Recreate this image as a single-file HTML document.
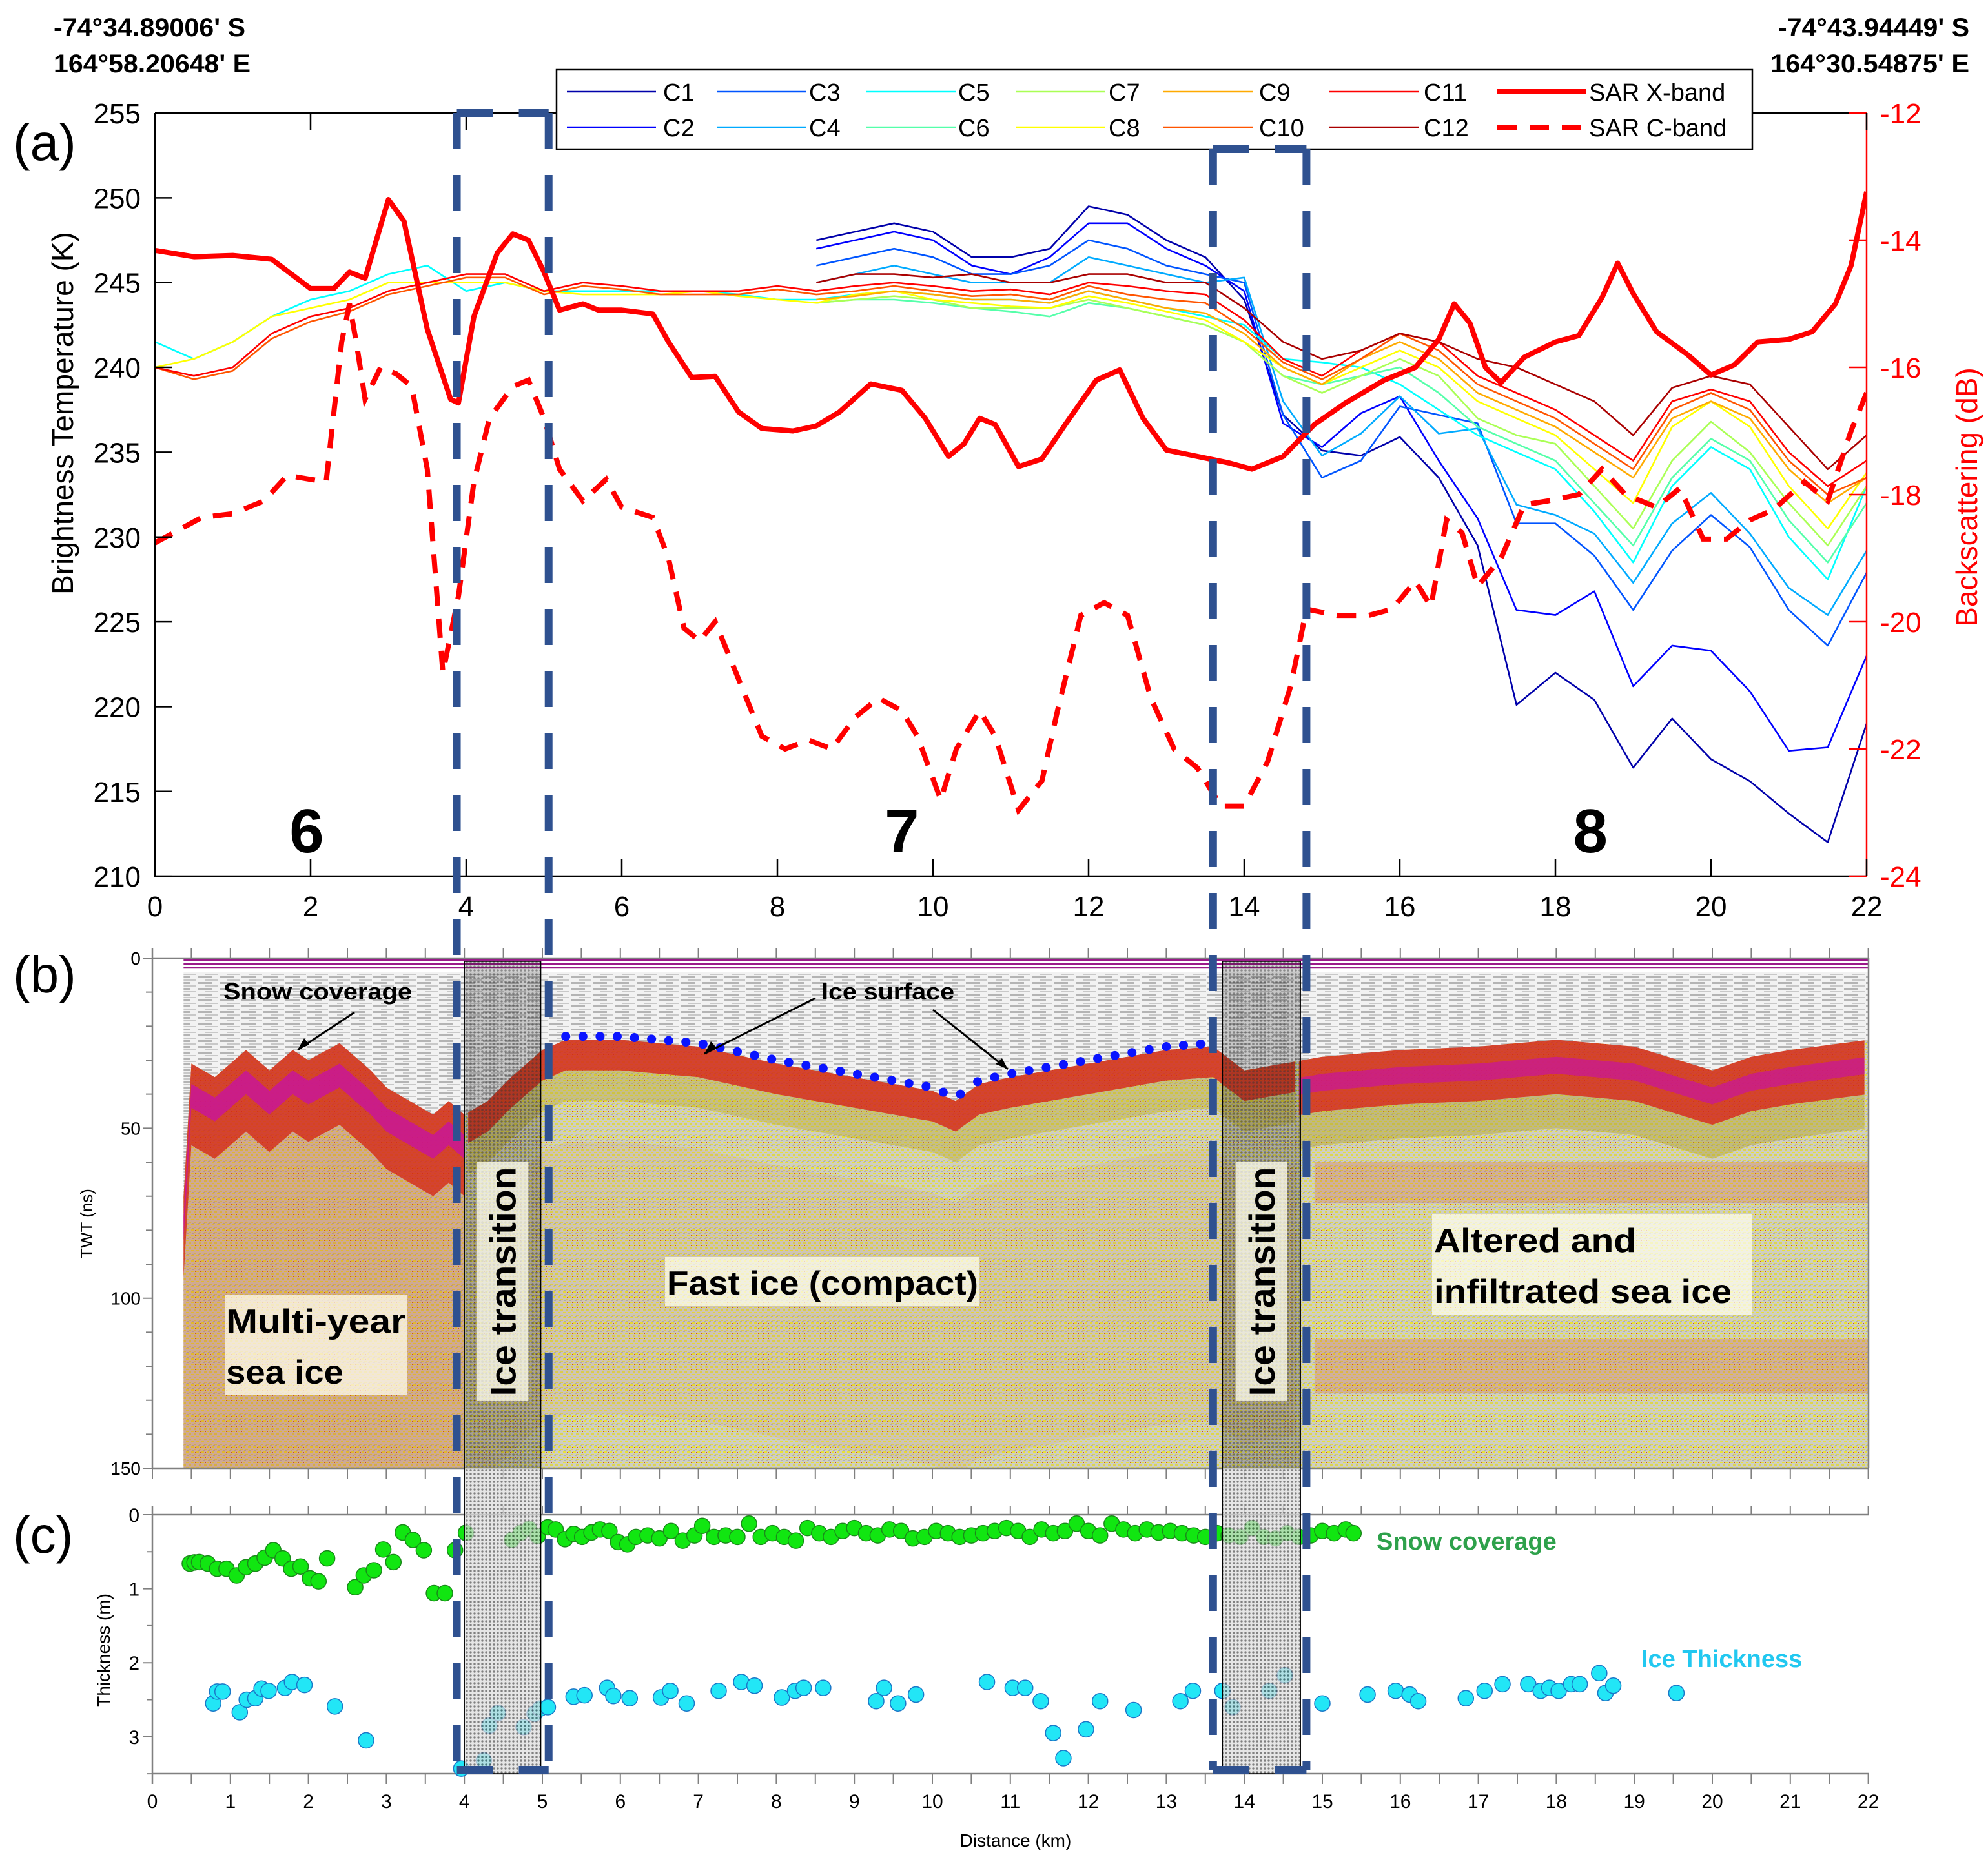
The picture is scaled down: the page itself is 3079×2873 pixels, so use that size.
<!DOCTYPE html>
<html><head><meta charset="utf-8"><style>
html,body{margin:0;padding:0;background:#fff}
svg{display:block}
text{font-family:"Liberation Sans",sans-serif}
</style></head><body>
<svg id="fig" xmlns="http://www.w3.org/2000/svg" width="3079" height="2873" viewBox="0 0 3079 2873">
<defs>
<pattern id="snowPat" width="34" height="9" patternUnits="userSpaceOnUse"><rect width="34" height="9" fill="#f2f2f2"/><rect x="0" y="0" width="22" height="3" fill="#b4b4b4"/><rect x="12" y="5" width="20" height="2" fill="#c8c8c8"/></pattern>
<pattern id="icePat" width="8" height="8" patternUnits="userSpaceOnUse"><rect width="8" height="8" fill="#cfcec2"/><rect x="0" y="0" width="4" height="2" fill="#e8e238"/><rect x="4" y="4" width="4" height="2" fill="#dcd650"/><rect x="2" y="6" width="3" height="1" fill="#b0b0b0"/><rect x="6" y="1" width="1" height="1" fill="#c85a20"/></pattern>
<pattern id="dotPat" width="6" height="6" patternUnits="userSpaceOnUse"><rect width="6" height="6" fill="#dcdcdc"/><circle cx="3" cy="3" r="1.7" fill="#555"/></pattern>
<pattern id="dotPatDark" width="6" height="6" patternUnits="userSpaceOnUse"><circle cx="3" cy="3" r="1.8" fill="#333"/></pattern>
<clipPath id="clipA"><rect x="240" y="175" width="2651" height="1182"/></clipPath>
<clipPath id="clipB"><rect x="284" y="1484" width="2610" height="790"/></clipPath>
</defs>
<rect width="3079" height="2873" fill="#fff"/>
<g font-weight="bold" font-size="40">
<text x="83" y="56" textLength="297" lengthAdjust="spacingAndGlyphs">-74°34.89006' S</text>
<text x="83" y="112" textLength="305" lengthAdjust="spacingAndGlyphs">164°58.20648' E</text>
</g>
<g font-weight="bold" font-size="40">
<text x="2754" y="56" textLength="296" lengthAdjust="spacingAndGlyphs">-74°43.94449' S</text>
<text x="2742" y="112" textLength="308" lengthAdjust="spacingAndGlyphs">164°30.54875' E</text>
</g>
<text x="20" y="248" font-size="80">(a)</text>
<text x="20" y="1537" font-size="80">(b)</text>
<text x="20" y="2405" font-size="80">(c)</text>
<g id="panelA"></g>
<g id="panelB"></g>
<g id="panelC"></g>
<g id="overlay"></g>
</svg>
<script>
const NS="http://www.w3.org/2000/svg";
// ---------- Panel (a) data ----------
const dist=[0,0.5,1,1.5,2,2.5,3,3.5,4,4.5,5,5.5,6,6.5,7,7.5,8,8.5,9,9.5,10,10.5,11,11.5,12,12.5,13,13.5,14,14.5,15,15.5,16,16.5,17,17.5,18,18.5,19,19.5,20,20.5,21,21.5,22];
const N17=[null,null,null,null,null,null,null,null,null,null,null,null,null,null,null,null,null];
const c1=N17.concat([247.5,248,248.5,248,246.5,246.5,247,249.5,249,247.5,246.5, 244,237.2,235.1,234.8,235.9,233.5,229.5,220.1,222,220.4,216.4,219.3,216.9,215.6,213.7,212,219]);
const c2=N17.concat([247,247.5,248,247.5,246,245.5,246.5,248.5,248.5,247,246, 244.5,236.7,235.3,237.3,238.3,234.5,231.1,225.7,225.4,226.8,221.2,223.6,223.3,220.9,217.4,217.6,223]);
const c3=N17.concat([246,246.5,247,246.5,245.5,245.5,246,247.5,247,246,245.5, 245,237.2,233.5,234.5,237.7,237.2,236.7,230.8,230.8,228.9,225.7,229.2,231.3,229.4,225.7,223.6,227.9]);
const c4=N17.concat([245,245.5,246,245.5,245,245,245,246.5,246,245.5,245, 245.3,238,234.8,236.1,238.3,236.1,236.4,231.9,231.3,230.2,227.3,230.8,232.6,230.2,227,225.4,229.2]);
const c5=[241.5,240.5,241.5,243,244,244.5,245.5,246,244.5,245,244.5,244.5,244.5,244.5,244.5,244.3,244, 244,244.3,244.5,244.3,244,244,243.8,244.5,244,243.5,243, 242.5,240.5,240.3,240,239,237.5,236,235,234,231.5,228.5,233,235.3,234,230,227.5,233];
const c6=N17.concat([243.8,244,244,243.8,243.5,243.3,243,243.8,243.5,243,242.5, 241.5,239.5,239,239.5,240,238.5,236.5,235.5,234.5,232,229.5,233.5,235.8,234.5,231,228.5,232]);
const c7=N17.concat([243.8,244,244.2,244,243.5,243.5,243.5,244,243.5,243,242.5, 241.5,239.5,238.5,239.5,240.5,239.5,237,236,235.5,233,230.5,234.5,236.8,235,232,229.5,233]);
const c8=[240,240.5,241.5,243,243.5,244,245,245,245,245,244.5,244.3,244.3,244.3,244.5,244.2,244, 243.8,244.3,244.5,244,243.8,243.6,243.5,244.2,243.8,243.3,242.8, 241.5,240,239,240,241,240,238,237,236,234,232,236.5,238,236.5,233,230.5,233.8];
const c9=N17.concat([244,244.2,244.5,244.3,244,244,243.8,244.5,244,243.5,243.2, 242,240,239,240.5,241.5,240.5,238.5,237.5,236.5,235,233.5,237,238,237,234,232,233.5]);
const c10=[240,239.3,239.8,241.7,242.7,243.3,244.3,244.8,245.3,245.3,244.3,244.8,244.6,244.3,244.3,244.3,244.6, 244.3,244.5,244.8,244.5,244.2,244.3,244,244.8,244.3,244,243.8, 242.3,240.3,239.3,240.5,242,241,239,238,237,235.5,234,237.5,238.5,237.5,234.5,232.5,233.5];
const c11=[240,239.5,240,242,243,243.5,244.5,245,245.5,245.5,244.5,245,244.8,244.5,244.5,244.5,244.8, 244.5,244.8,245,244.8,244.5,244.6,244.3,245,244.8,244.5,244.3, 242.8,240.5,239.5,241,242,241.5,239.5,238.5,237.5,236,234.5,238,238.7,238,235,233,234.5];
const c12=N17.concat([245,245.5,245.5,245.3,245.5,245,245,245.5,245.5,245,245, 243.5,241.5,240.5,241,242,241.5,240.5,240,239,238,236,238.8,239.5,239,236.5,234,236]);
const xbandKm=[0,0.5,1,1.5,2,2.3,2.5,2.7,3.0,3.2,3.5,3.8,3.9,4.1,4.4,4.6,4.8,5.0,5.2,5.5,5.7,6.0,6.4,6.6,6.9,7.2,7.5,7.8,8.2,8.5,8.8,9.2,9.6,9.9,10.2,10.4,10.6,10.8,11.1,11.4,11.7,12.1,12.4,12.7,13.0,13.4,13.8,14.1,14.5,14.9,15.3,15.8,16.2,16.5,16.7,16.9,17.1,17.3,17.6,18.0,18.3,18.6,18.8,19.0,19.3,19.7,20.0,20.3,20.6,21.0,21.3,21.6,21.8,22.0];
const xbandDb=[-14.16,-14.26,-14.24,-14.3,-14.76,-14.76,-14.5,-14.6,-13.36,-13.7,-15.4,-16.5,-16.56,-15.2,-14.2,-13.9,-14.0,-14.5,-15.1,-15.0,-15.1,-15.1,-15.16,-15.6,-16.16,-16.14,-16.7,-16.96,-17.0,-16.92,-16.7,-16.26,-16.36,-16.8,-17.4,-17.2,-16.8,-16.9,-17.56,-17.44,-16.9,-16.2,-16.04,-16.8,-17.3,-17.4,-17.5,-17.6,-17.4,-16.9,-16.56,-16.2,-16.0,-15.56,-15.0,-15.3,-16.0,-16.24,-15.84,-15.6,-15.5,-14.9,-14.36,-14.84,-15.44,-15.8,-16.12,-15.96,-15.6,-15.56,-15.44,-15.0,-14.4,-13.24];
const cbandKm=[0,0.3,0.6,1.0,1.4,1.7,2.0,2.2,2.4,2.5,2.6,2.7,2.9,3.1,3.3,3.5,3.7,3.9,4.1,4.3,4.6,4.8,5.0,5.2,5.5,5.8,6.0,6.4,6.6,6.8,7.0,7.2,7.5,7.8,8.1,8.4,8.7,9.0,9.3,9.6,9.8,10.1,10.3,10.6,10.8,11.1,11.4,11.6,11.9,12.2,12.5,12.8,13.1,13.4,13.7,14.0,14.3,14.6,14.8,15.2,15.6,15.9,16.2,16.4,16.6,16.8,17.0,17.3,17.6,17.9,18.3,18.6,18.9,19.3,19.6,19.9,20.2,20.5,20.8,21.2,21.5,21.8,22.0];
const cbandDb=[-18.76,-18.56,-18.36,-18.3,-18.1,-17.7,-17.76,-17.8,-15.6,-15.0,-15.7,-16.5,-16.0,-16.1,-16.3,-17.6,-20.8,-19.6,-17.8,-16.8,-16.3,-16.2,-16.8,-17.6,-18.1,-17.76,-18.2,-18.36,-19.0,-20.1,-20.3,-20.0,-20.9,-21.8,-22.0,-21.86,-22.0,-21.5,-21.2,-21.4,-21.8,-22.8,-22.0,-21.4,-21.8,-22.96,-22.5,-21.4,-19.9,-19.7,-19.9,-21.2,-22.0,-22.3,-22.9,-22.9,-22.2,-21.0,-19.8,-19.9,-19.9,-19.8,-19.36,-19.76,-18.4,-18.6,-19.44,-19.0,-18.16,-18.1,-18.0,-17.6,-18.0,-18.2,-17.9,-18.7,-18.7,-18.4,-18.24,-17.8,-18.1,-17.0,-16.4];
const tbTicks=[210,215,220,225,230,235,240,245,250,255];
const dbTicks=[-12,-14,-16,-18,-20,-22,-24];
const kmTicksA=[0,2,4,6,8,10,12,14,16,18,20,22];
const chanNames=["C1","C2","C3","C4","C5","C6","C7","C8","C9","C10","C11","C12"];
const chanData=[c1,c2,c3,c4,c5,c6,c7,c8,c9,c10,c11,c12];
const chanColors=["#0000aa","#0000ff","#0055ff","#00aaff","#00ffff","#55ffaa","#aaff55","#ffff00","#ffaa00","#ff5500","#ff0000","#aa0000"];
// ---------- Panel (b) data ----------
const surfKm=[0.4,0.5,0.8,1.2,1.5,1.8,2.0,2.4,2.8,3.0,3.3,3.6,3.8,4.0,4.3,4.6,5.0,5.3,6,7,8,9,10,10.3,10.6,11,12,13,13.6,14,14.5,15,16,17,18,19,20,20.5,21,22];
const surfNs=[70,31,35,27,33,27,30,25,33,38,42,46,42,46,42,35,27,24,24,26,31,35,39,42,37,35,31,27,26,33,31,29,27,26,24,26,33,29,27,24];
const twtTicks=[0,50,100,150];
// ---------- Panel (c) data ----------
const snowKm=[0.48,0.54,0.60,0.71,0.83,0.95,1.08,1.2,1.32,1.44,1.55,1.67,1.78,1.9,2.02,2.13,2.24,2.6,2.71,2.84,2.96,3.09,3.21,3.34,3.48,3.61,3.75,3.88,4.02,4.61,4.72,4.83,4.94,5.07,5.17,5.29,5.40,5.51,5.63,5.74,5.86,5.97,6.09,6.2,6.35,6.5,6.65,6.8,6.95,7.05,7.2,7.35,7.5,7.65,7.8,7.95,8.1,8.25,8.4,8.55,8.7,8.85,9.0,9.15,9.3,9.45,9.6,9.75,9.9,10.05,10.2,10.35,10.5,10.65,10.8,10.95,11.1,11.25,11.4,11.55,11.7,11.85,12.0,12.15,12.3,12.45,12.6,12.75,12.9,13.05,13.2,13.35,13.5,13.65,13.8,13.95,14.1,14.25,14.4,14.55,14.7,14.85,15.0,15.15,15.3,15.4];
const snowM=[0.66,0.645,0.64,0.66,0.73,0.73,0.82,0.71,0.66,0.58,0.48,0.59,0.73,0.70,0.86,0.90,0.59,0.98,0.82,0.75,0.47,0.64,0.24,0.34,0.48,1.06,1.06,0.48,0.245,0.34,0.245,0.19,0.29,0.17,0.2,0.33,0.26,0.3,0.24,0.2,0.22,0.37,0.40,0.3,0.28,0.32,0.22,0.35,0.28,0.15,0.3,0.28,0.3,0.12,0.3,0.25,0.3,0.35,0.18,0.25,0.3,0.22,0.18,0.25,0.28,0.2,0.22,0.32,0.3,0.22,0.25,0.3,0.28,0.25,0.22,0.18,0.22,0.3,0.2,0.25,0.22,0.12,0.22,0.28,0.12,0.2,0.25,0.2,0.24,0.22,0.25,0.28,0.3,0.25,0.28,0.3,0.18,0.3,0.32,0.25,0.3,0.28,0.22,0.25,0.2,0.25];
const iceKm=[0.78,0.83,0.9,1.12,1.21,1.32,1.4,1.49,1.7,1.79,1.95,2.34,2.74,3.96,4.25,4.32,4.43,4.76,4.9,4.97,5.07,5.4,5.54,5.83,5.91,6.12,6.52,6.64,6.85,7.26,7.55,7.72,8.07,8.24,8.35,8.6,9.28,9.38,9.56,9.79,10.7,11.03,11.19,11.39,11.55,11.68,11.97,12.15,12.58,13.18,13.34,13.72,13.85,14.32,14.52,15.0,15.58,15.94,16.12,16.23,16.84,17.08,17.31,17.64,17.8,17.91,18.03,18.19,18.3,18.55,18.63,18.73,19.54];
const iceM=[2.55,2.39,2.39,2.67,2.5,2.48,2.35,2.38,2.34,2.26,2.3,2.59,3.05,3.43,3.32,2.85,2.68,2.87,2.69,2.62,2.6,2.46,2.44,2.34,2.45,2.48,2.47,2.38,2.55,2.38,2.26,2.31,2.47,2.38,2.34,2.34,2.52,2.34,2.55,2.43,2.26,2.34,2.34,2.52,2.95,3.29,2.9,2.52,2.64,2.52,2.38,2.38,2.6,2.38,2.17,2.55,2.43,2.38,2.43,2.52,2.48,2.38,2.29,2.29,2.38,2.34,2.38,2.29,2.29,2.14,2.41,2.31,2.41];
const thickTicks=[0,1,2,3];
const transitions=[[3.88,5.06,175],[13.6,14.8,231]];

// ---------- scales ----------
const xa=k=>240+k*120.5;
const yK=v=>175+(255-v)*26.27;
const yD=v=>175+(-12-v)*98.5;
const xb=k=>236+k*120.8;
const yb=n=>1484+n*5.267;
const yc=m=>2346+m*114.6;
function el(tag,attrs,parent){const e=document.createElementNS(NS,tag);for(const k in attrs)e.setAttribute(k,attrs[k]);parent.appendChild(e);return e;}
function interp(xs,ys,x){if(x<=xs[0])return ys[0];for(let i=1;i<xs.length;i++){if(x<=xs[i]){const t=(x-xs[i-1])/(xs[i]-xs[i-1]);return ys[i-1]+t*(ys[i]-ys[i-1]);}}return ys[ys.length-1];}

const A=document.getElementById('panelA');
const B=document.getElementById('panelB');
const C=document.getElementById('panelC');
const O=document.getElementById('overlay');

// ===== Panel A =====
const clipG=el('g',{'clip-path':'url(#clipA)'},A);


chanData.forEach((arr,ci)=>{
  let d='';let pen=false;
  arr.forEach((v,i)=>{if(v===null){pen=false;return;}d+=(pen?'L':'M')+xa(dist[i]).toFixed(1)+' '+yK(v).toFixed(1);pen=true;});
  const p=el('path',{d:d,fill:'none',stroke:chanColors[ci],'stroke-width':2.6,'stroke-linejoin':'round'},clipG);
  
  
});
{
  let d=xbandKm.map((k,i)=>(i?'L':'M')+xa(k).toFixed(1)+' '+yD(xbandDb[i]).toFixed(1)).join('');
  const p=el('path',{d:d,fill:'none',stroke:'#ff0000','stroke-width':8,'stroke-linejoin':'round'},clipG);
  
  
  let d2=cbandKm.map((k,i)=>(i?'L':'M')+xa(k).toFixed(1)+' '+yD(cbandDb[i]).toFixed(1)).join('');
  const p2=el('path',{d:d2,fill:'none',stroke:'#ff0000','stroke-width':8,'stroke-dasharray':'30 20'},clipG);
  
  
}
// axes
{
  const fr=el('path',{d:'M240 175H2891M240 175V1357H2891',fill:'none',stroke:'#000','stroke-width':2.5},A);
  
  
  const ra=el('line',{x1:2891,y1:175,x2:2891,y2:1357,stroke:'#ff0000','stroke-width':2.5},A);
  
  
  tbTicks.forEach(v=>{
    const t=el('line',{x1:240,x2:267,y1:yK(v),y2:yK(v),stroke:'#000','stroke-width':2.5},A);
    
    
    const tx=el('text',{x:218,y:yK(v)+16,'font-size':44,'text-anchor':'end'},A);
    tx.textContent=v;
    
    
  });
  dbTicks.forEach(v=>{
    const t=el('line',{x1:2864,x2:2891,y1:yD(v),y2:yD(v),stroke:'#ff0000','stroke-width':2.5},A);
    
    
    const tx=el('text',{x:2912,y:yD(v)+16,'font-size':44,fill:'#ff0000'},A);
    tx.textContent=v;
    
    
  });
  kmTicksA.forEach(v=>{
    const t=el('path',{d:`M${xa(v)} 1357V1330M${xa(v)} 175V202`,stroke:'#000','stroke-width':2.5},A);
    
    
    const tx=el('text',{x:xa(v),y:1419,'font-size':44,'text-anchor':'middle'},A);
    tx.textContent=v;
    
    
  });
  const yt=el('text',{x:0,y:0,'font-size':46,'text-anchor':'middle',transform:'translate(113 640) rotate(-90)'},A);
  yt.textContent='Brightness Temperature (K)';
  
  
  const yt2=el('text',{x:0,y:0,'font-size':46,'text-anchor':'middle',fill:'#ff0000',transform:'translate(3062 770) rotate(-90)'},A);
  yt2.textContent='Backscattering (dB)';
  
  
  [['6',1.95],['7',9.6],['8',18.45]].forEach(z=>{
    const tx=el('text',{x:xa(z[1]),y:1320,'font-size':96,'font-weight':'bold','text-anchor':'middle'},A);
    tx.textContent=z[0];
    
    
  });
  // legend
  const lg=el('g',{},A);
  
  
  el('rect',{x:862,y:108,width:1852,height:123,fill:'#fff',stroke:'#000','stroke-width':2.5},lg);
  const colLine=[878,1111,1342,1573,1802,2059];
  const colText=[1027,1253,1484,1717,1950,2205];
  chanNames.forEach((n,i)=>{
    const col=Math.floor(i/2),row=i%2;const y=row?197:142;
    const e=el('g',{},lg);
    
    
    el('line',{x1:colLine[col],x2:colLine[col]+138,y1:y,y2:y,stroke:chanColors[i],'stroke-width':2.6},e);
    const t=el('text',{x:colText[col],y:y+14,'font-size':38},e);
    t.textContent=n;
  });
  const e1=el('g',{},lg);
  
  
  el('line',{x1:2319,x2:2457,y1:142,y2:142,stroke:'#ff0000','stroke-width':8},e1);
  const t1=el('text',{x:2461,y:156,'font-size':38},e1);t1.textContent='SAR X-band';
  const e2=el('g',{},lg);
  
  
  el('line',{x1:2319,x2:2457,y1:197,y2:197,stroke:'#ff0000','stroke-width':8,'stroke-dasharray':'30 20'},e2);
  const t2=el('text',{x:2461,y:211,'font-size':38},e2);t2.textContent='SAR C-band';
}

// ===== Panel B (radargram) =====
{
  const g=el('g',{'clip-path':'url(#clipB)'},B);
  
  
  const x0=xb(0.4),x1=xb(22);
  el('rect',{x:x0,y:yb(4),width:x1-x0,height:yb(150)-yb(4),fill:'url(#snowPat)'},g);
  [0.6,1.7,2.8].forEach(n=>{const l=el('line',{x1:x0,x2:x1,y1:yb(n),y2:yb(n),stroke:'#9a1a8a','stroke-width':3},g);
    
    });
  const surf=[];for(let k=0.4;k<=22.001;k+=0.05)surf.push([k,interp(surfKm,surfNs,k)]);
  const top=surf.map((p,i)=>(i?'L':'M')+xb(p[0]).toFixed(1)+' '+yb(p[1]).toFixed(1)).join('');
  const ice=el('path',{d:top+`L${x1} ${yb(150)}L${x0} ${yb(150)}Z`,fill:'url(#icePat)'},g);
  
  
  function band(k0,k1,o0,o1,fill,op,name){
    const pts=surf.filter(p=>p[0]>=k0&&p[0]<=k1);
    let d=pts.map((p,i)=>(i?'L':'M')+xb(p[0]).toFixed(1)+' '+yb(p[1]+o0).toFixed(1)).join('');
    d+=pts.slice().reverse().map(p=>'L'+xb(p[0]).toFixed(1)+' '+yb(p[1]+o1).toFixed(1)).join('')+'Z';
    const b=el('path',{d:d,fill:fill,opacity:op},g);
    
    
  }
  band(0.4,4.0,0,24,'#d42a18',0.85,'surface-band-left');
  band(0.4,4.0,6,13,'#c8149e',0.8,'surface-core-left');
  band(0.4,4.0,24,130,'#d04a1a',0.28,'multi-year-layers');
  band(4.0,14.7,0,9,'#d42a18',0.85,'surface-band-middle');
  band(4.0,14.7,9,18,'#b8a830',0.4,'surface-under-middle');
  band(4.0,14.7,30,110,'#d05a20',0.08,'fast-ice-faint-layers');
  band(14.7,22,0,16,'#d42a18',0.85,'surface-band-right');
  band(14.7,22,5,10,'#c8149e',0.7,'surface-core-right');
  band(14.7,22,16,26,'#b0a030',0.45,'surface-under-right');
  [[60,72],[112,128]].forEach(r=>{const b=el('rect',{x:xb(14.9),y:yb(r[0]),width:xb(22)-xb(14.9),height:yb(r[1])-yb(r[0]),fill:'#d8461c',opacity:0.22},g);
    
    });
  for(let k=5.3;k<=13.55;k+=0.22){const c=el('circle',{cx:xb(k),cy:yb(interp(surfKm,surfNs,k)-1),r:7,fill:'#0a14ff'},g);
    
    }
  // axes b
  const ax=el('path',{d:`M236 1469V2274M236 1484H2894M236 2274H2894M2894 1484V2274`,fill:'none',stroke:'#808080','stroke-width':2.5},B);
  
  
  let td='';for(let k=0;k<=22;k+=0.5){td+=`M${xb(k)} 1484V1469M${xb(k)} 2274V2290`;}
  for(let n=0;n<=150;n+=10){td+=`M236 ${yb(n)}H${n%50?226:222}`;}
  const tk=el('path',{d:td,stroke:'#808080','stroke-width':2},B);
  
  
  twtTicks.forEach(v=>{const t=el('text',{x:218,y:yb(v)+10,'font-size':28,'text-anchor':'end'},B);t.textContent=v;
    
    });
  const yt=el('text',{x:0,y:0,'font-size':26,'text-anchor':'middle',transform:'translate(143 1895) rotate(-90)'},B);
  yt.textContent='TWT (ns)';
  
  
  const ann=el('g',{'font-weight':'bold'},B);
  
  
  [[348,2005,282,156],[1030,1947,487,76],[2218,1880,496,156]].forEach(b=>el('rect',{x:b[0],y:b[1],width:b[2],height:b[3],fill:'#fffff0',opacity:0.72},ann));
  const txts=[['Snow coverage',346,1548,36,292],['Ice surface',1272,1548,36,206],['Multi-year',350,2064,52,278],['sea ice',350,2143,52,182],['Fast ice (compact)',1033,2005,52,482],['Altered and',2221,1939,52,313],['infiltrated sea ice',2221,2018,52,461]];
  txts.forEach(t=>{const e=el('text',{x:t[1],y:t[2],'font-size':t[3],textLength:t[4],lengthAdjust:'spacingAndGlyphs'},ann);e.textContent=t[0];});
  el('path',{d:'M549 1568L461 1626M1263 1546L1091 1632M1445 1564L1561 1656',stroke:'#000','stroke-width':3,fill:'none'},ann);
  el('path',{d:'M461 1626l10-18l8 10zM1091 1632l10-19l9 10zM1561 1656l-19-8l10-9z',fill:'#000'},ann);
}

// ===== Transition overlays =====
transitions.forEach((t,i)=>{
  const xl=xb(t[0]+0.12),xr=xb(t[1]-0.08);
  const g=el('g',{},O);
  
  
  el('rect',{x:xl,y:1489,width:xr-xl,height:2274-1489,fill:'#000',opacity:0.18},g);
  el('rect',{x:xl,y:1489,width:xr-xl,height:2274-1489,fill:'url(#dotPatDark)',opacity:0.45},g);
  el('rect',{x:xl,y:2274,width:xr-xl,height:2747-2274,fill:'url(#dotPat)',opacity:0.75},g);
  el('rect',{x:xl,y:1489,width:xr-xl,height:2747-1489,fill:'none',stroke:'#000','stroke-width':1.5},g);
  const cx=(xl+xr)/2;
  el('rect',{x:cx-40,y:1800,width:80,height:370,fill:'#fffff0',opacity:0.75},g);
  const tx=el('text',{x:0,y:0,'font-size':56,'font-weight':'bold','text-anchor':'middle',textLength:355,lengthAdjust:'spacingAndGlyphs',transform:`translate(${cx+20} 1985) rotate(-90)`},g);
  tx.textContent='Ice transition';
  const xL=xa(t[0]),xR=xa(t[1]);
  const ds=el('path',{d:`M${xL} ${t[2]}V2741M${xR} ${t[2]}V2741`,stroke:'#2f5190','stroke-width':12,'stroke-dasharray':'56 40',fill:'none'},g);
  
  
  const hz=el('path',{d:`M${xL} ${t[2]}H${xR}M${xL} 2741H${xR}`,stroke:'#2f5190','stroke-width':12,'stroke-dasharray':'56 40',fill:'none'},g);
  
  
});

// ===== Panel C =====
{
  const ax=el('path',{d:`M236 2332V2763M236 2346H2894M236 2747H2894`,fill:'none',stroke:'#808080','stroke-width':2.5},C);
  
  
  let td='';for(let k=0;k<=22;k+=0.5){td+=`M${xb(k)} 2346V2332M${xb(k)} 2747V2763`;}
  for(let m=0;m<=3.5;m+=0.5){td+=`M236 ${yc(m)}H${m%1?228:222}`;}
  const tk=el('path',{d:td,stroke:'#808080','stroke-width':2},C);
  
  
  for(let k=0;k<=22;k++){const t=el('text',{x:xb(k),y:2800,'font-size':30,'text-anchor':'middle'},C);t.textContent=k;
    
    }
  thickTicks.forEach(v=>{const t=el('text',{x:216,y:yc(v)+11,'font-size':30,'text-anchor':'end'},C);t.textContent=v;
    
    });
  const yt=el('text',{x:0,y:0,'font-size':28,'text-anchor':'middle',transform:'translate(170 2556) rotate(-90)'},C);
  yt.textContent='Thickness (m)';
  
  
  const xt=el('text',{x:1573,y:2860,'font-size':28,'text-anchor':'middle'},C);
  xt.textContent='Distance (km)';
  
  
  snowKm.forEach((k,i)=>{const c=el('circle',{cx:xb(k),cy:yc(snowM[i]),r:12,fill:'#11e611',stroke:'#1a8a1a','stroke-width':1.5},C);
    
    });
  iceKm.forEach((k,i)=>{const c=el('circle',{cx:xb(k),cy:yc(iceM[i]),r:12,fill:'#22e6f6',stroke:'#1a78c8','stroke-width':1.5},C);
    
    });
  const l1=el('text',{x:2132,y:2400,'font-size':38,'font-weight':'bold',fill:'#2ea14b'},C);
  l1.textContent='Snow coverage';
  
  
  const l2=el('text',{x:2542,y:2582,'font-size':38,'font-weight':'bold',fill:'#22c8f0'},C);
  l2.textContent='Ice Thickness';
  
  
}
</script>
</body></html>
